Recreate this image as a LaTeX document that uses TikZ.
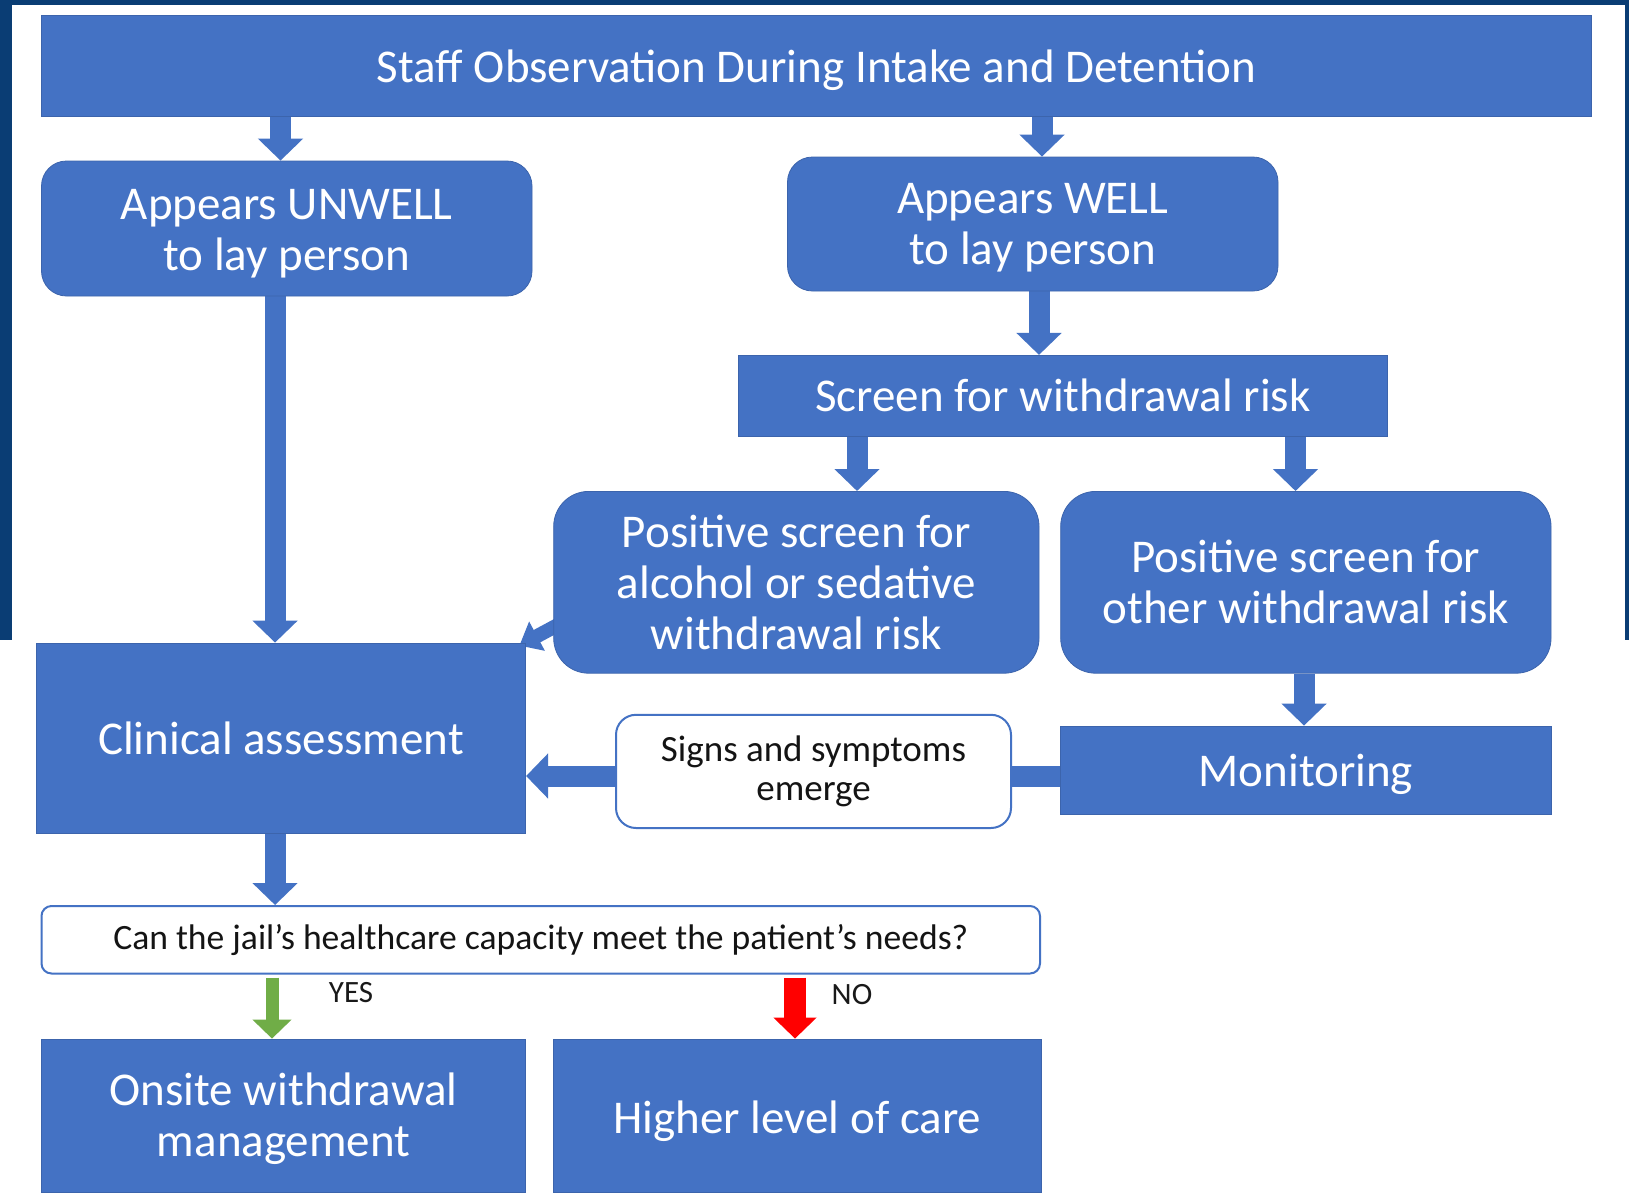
\documentclass[tikz,border=0pt]{standalone}
\usepackage{fontspec}
\setmainfont{Carlito}
\usetikzlibrary{arrows.meta}
\definecolor{boxblue}{HTML}{4472C4}
\definecolor{navy}{HTML}{0A3D74}
\definecolor{yesgreen}{HTML}{70AD47}
\definecolor{nored}{HTML}{FF0000}
\pgfdeclarelayer{back}
\pgfdeclarelayer{arr}
\pgfsetlayers{back,arr,main}
\newcommand\dn[2]{\raisebox{-#1}[\height][\depth]{#2}}
\begin{document}
\begin{tikzpicture}[x=1pt,y=-1pt,
  bluebox/.style={fill=boxblue, draw=boxblue!88!black, line width=0.8pt, text=white, align=center, inner sep=0pt, font=\fontsize{47}{51}\selectfont},
  rbox/.style={bluebox, rounded corners=25pt},
  rrbox/.style={bluebox, rounded corners=35pt},
  whitebox/.style={fill=white, draw=boxblue, line width=2pt, text=black!92, align=center, inner sep=0pt},
  blk/.style={draw=boxblue, line width=21pt, -{Triangle[width=44pt,length=22pt]}},
  bar/.style={draw=boxblue, line width=21pt},
  lbl/.style={text=black!90, inner sep=0pt, font=\fontsize{31}{36}\selectfont},
]
\useasboundingbox (0,0) rectangle (1629,1192);
\begin{pgfonlayer}{back}
\fill[white] (0,0) rectangle (1629,1192);
\fill[navy] (0,0) rectangle (1629,5);
\fill[navy] (0,0) rectangle (12,640);
\fill[navy] (1625,0) rectangle (1629,640);
\end{pgfonlayer}

\node[bluebox, minimum width=1550pt, minimum height=101pt] (top) at (816.5,66) {\dn{4pt}{Staff Observation During Intake and Detention}};
\node[rbox, minimum width=490.5pt, minimum height=135pt] (unwell) at (286.75,228.5) {\dn{5pt}{Appears UNWELL}\\\dn{5pt}{to lay person}};
\node[rbox, minimum width=490.5pt, minimum height=134pt] (well) at (1032.75,224) {\dn{4pt}{Appears WELL}\\\dn{4pt}{to lay person}};
\node[bluebox, minimum width=648.3pt, minimum height=81pt] (screen) at (1062.85,395.8) {Screen for withdrawal risk};
\node[rrbox, minimum width=485.3pt, minimum height=181.8pt] (alc) at (796.35,582.3) {Positive screen for\\alcohol or sedative\\withdrawal risk};
\node[rrbox, minimum width=490.3pt, minimum height=181.8pt] (other) at (1305.85,582.3) {Positive screen for\\other withdrawal risk};
\node[bluebox, minimum width=490.3pt, minimum height=88.5pt] (mon) at (1305.85,770.25) {\dn{4pt}{Monitoring}};
\node[whitebox, rounded corners=20pt, minimum width=395pt, minimum height=113.2pt, font=\fontsize{37}{39.5}\selectfont] (signs) at (813.5,771.4) {Signs and symptoms\\emerge};
\node[bluebox, minimum width=489.3pt, minimum height=190pt] (clin) at (281.05,738) {Clinical assessment};
\node[whitebox, rounded corners=10pt, minimum width=998.5pt, minimum height=67.5pt, font=\fontsize{35.6}{40}\selectfont] (q) at (540.75,939.75) {Can the jail’s healthcare capacity meet the patient’s needs?};
\node[bluebox, minimum width=484.2pt, minimum height=153pt] (onsite) at (283.6,1115.5) {\dn{3pt}{Onsite withdrawal}\\\dn{3pt}{management}};
\node[bluebox, minimum width=487.3pt, minimum height=153pt] (higher) at (797.35,1115.5) {\dn{6pt}{Higher level of care}};
\node[lbl] (yes) at (351,993) {YES};
\node[lbl] (no) at (852,995) {NO};

\begin{pgfonlayer}{arr}
\draw[blk] ([xshift=-6.25pt]unwell.north |- top.south) -- ([xshift=-6.25pt]unwell.north);
\draw[blk] ([xshift=9.25pt]well.north |- top.south) -- ([xshift=9.25pt]well.north);
\draw[blk] ([xshift=6.25pt]well.south) -- ([xshift=6.25pt]well.south |- screen.north);
\draw[blk] ([xshift=60.65pt]alc.north |- screen.south) -- ([xshift=60.65pt]alc.north);
\draw[blk] ([xshift=-10.35pt]other.north |- screen.south) -- ([xshift=-10.35pt]other.north);
\draw[blk] ([xshift=-1.85pt]other.south) -- ([xshift=-1.85pt]other.south |- mon.north);
\draw[blk] ([xshift=-6pt]clin.north |- unwell.south) -- ([xshift=-6pt]clin.north);
\draw[blk] ([xshift=-6pt]clin.south) -- ([xshift=-6pt]clin.south |- q.north);
\draw[bar] ([yshift=-4.6pt]signs.east) -- ([yshift=-4.6pt]signs.east -| mon.west);
\draw[blk] ([yshift=-4.6pt]signs.west) -- ([yshift=-4.6pt]signs.west -| clin.east);
\draw[draw=boxblue, line width=14pt, -{Triangle[width=32pt,length=20pt]}] ([xshift=11.3pt,yshift=-39pt]alc.west) -- ([xshift=-6.7pt,yshift=-3pt]clin.north east);
\end{pgfonlayer}
\draw[draw=yesgreen, line width=13pt, -{Triangle[width=38pt,length=19pt]}] ([xshift=-11.6pt,yshift=-3pt]onsite.north |- q.south) -- ([xshift=-11.6pt]onsite.north);
\draw[draw=nored, line width=22pt, -{Triangle[width=42pt,length=21pt]}] ([xshift=-2.35pt,yshift=-3pt]higher.north |- q.south) -- ([xshift=-2.35pt]higher.north);
\end{tikzpicture}
\end{document}
